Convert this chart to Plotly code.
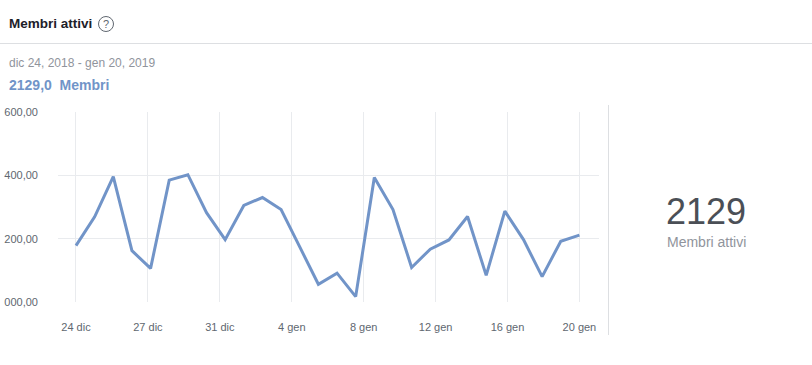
import pandas as pd
import plotly.graph_objects as go

# ---- data ----
dates = pd.date_range("2018-12-24", "2019-01-20", freq="D")
members = [2178, 2269, 2396, 2162, 2106, 2385, 2402, 2282, 2197, 2305,
           2330, 2292, 2174, 2056, 2091, 2017, 2393, 2292, 2109, 2167,
           2196, 2270, 2084, 2287, 2197, 2080, 2192, 2211]
x_tick_labels = ["24 dic", "27 dic", "31 dic", "4 gen", "8 gen", "12 gen", "16 gen", "20 gen"]
y_tick_values = [2000, 2200, 2400, 2600]
y_tick_labels = ["000,00", "200,00", "400,00", "600,00"]
total_active = "2129"
summary_value = "2129,0"
period_label = "dic 24, 2018 - gen 20, 2019"

FONT = "Arial, 'Liberation Sans', sans-serif"
LINE_COLOR = "#7194c8"
GRID = "#e9ebee"

start, end = dates[0], dates[-1]
span = end - start
n = len(x_tick_labels)
x_tick_vals = [start + span * k / (n - 1) for k in range(n)]

fig = go.Figure()
fig.add_trace(go.Scatter(
    x=dates, y=members, mode="lines",
    line=dict(color=LINE_COLOR, width=3),
    hoverinfo="skip", showlegend=False,
))

# pixel -> paper helpers (plot area: x 58..599, y 112..302)
L, R, T, B = 58, 599, 112, 302
def ax(px):
    return (px - L) / (R - L)
def ay(py):
    return (B - py) / (B - T)

fig.update_layout(
    width=812, height=365,
    margin=dict(l=L, r=812 - R, t=T, b=365 - B),
    paper_bgcolor="white", plot_bgcolor="white",
    font=dict(family=FONT),
    xaxis=dict(
        type="date",
        range=[start - pd.Timedelta(days=0.965), end + pd.Timedelta(days=1.05)],
        tickvals=x_tick_vals, ticktext=x_tick_labels,
        showgrid=True, gridcolor=GRID, gridwidth=1,
        zeroline=False, showline=False, ticks="",
        tickfont=dict(size=11, color="#606770", family=FONT),
        ticklabelstandoff=17, automargin=False,
        fixedrange=True,
    ),
    yaxis=dict(
        range=[2000, 2600],
        tickvals=y_tick_values, ticktext=y_tick_labels,
        showgrid=True, gridcolor=GRID, gridwidth=1,
        zeroline=False, showline=False, ticks="",
        tickfont=dict(size=11, color="#606770", family=FONT),
        ticklabelstandoff=19, automargin=False,
        fixedrange=True,
    ),
)

shapes = [
    # hide top gridline
    dict(type="line", xref="paper", yref="y", x0=0, x1=1, y0=2600, y1=2600,
         line=dict(color="white", width=2), layer="between"),
    # header separator
    dict(type="line", xref="paper", yref="paper", x0=ax(0), x1=ax(812),
         y0=ay(43.5), y1=ay(43.5), line=dict(color="#dddfe2", width=1)),
    # vertical separator
    dict(type="line", xref="paper", yref="paper", x0=ax(608.5), x1=ax(608.5),
         y0=ay(105), y1=ay(335), line=dict(color="#dddfe2", width=1)),
    # help icon circle
    dict(type="circle", xref="paper", yref="paper", x0=ax(98.5), x1=ax(113.5),
         y0=ay(31.5), y1=ay(16.5), line=dict(color="#606770", width=1)),
]
fig.update_layout(shapes=shapes)

annotations = [
    dict(text="<b>Membri attivi</b>", x=ax(7), y=ay(23), xanchor="left", yanchor="middle",
         font=dict(size=13.5, color="#1d2129", family=FONT)),
    dict(text="?", x=ax(106), y=ay(24), xanchor="center", yanchor="middle",
         font=dict(size=11, color="#606770", family=FONT)),
    dict(text=period_label, x=ax(7), y=ay(63), xanchor="left", yanchor="middle",
         font=dict(size=12, color="#90949c", family=FONT)),
    dict(text="<b>" + summary_value + "\u00a0 Membri</b>", x=ax(7), y=ay(85),
         xanchor="left", yanchor="middle",
         font=dict(size=14, color=LINE_COLOR, family=FONT)),
    dict(text=total_active, x=ax(706), y=ay(211), xanchor="center", yanchor="middle",
         font=dict(size=36, color="#4b4f56", family=FONT)),
    dict(text="Membri attivi", x=ax(706), y=ay(242), xanchor="center", yanchor="middle",
         font=dict(size=14, color="#90949c", family=FONT)),
]
for a in annotations:
    a.update(xref="paper", yref="paper", showarrow=False)
fig.update_layout(annotations=annotations)

fig.write_html("out.html", config={"displayModeBar": False},
               post_script="document.body.style.margin='0';document.body.style.padding='0';")
